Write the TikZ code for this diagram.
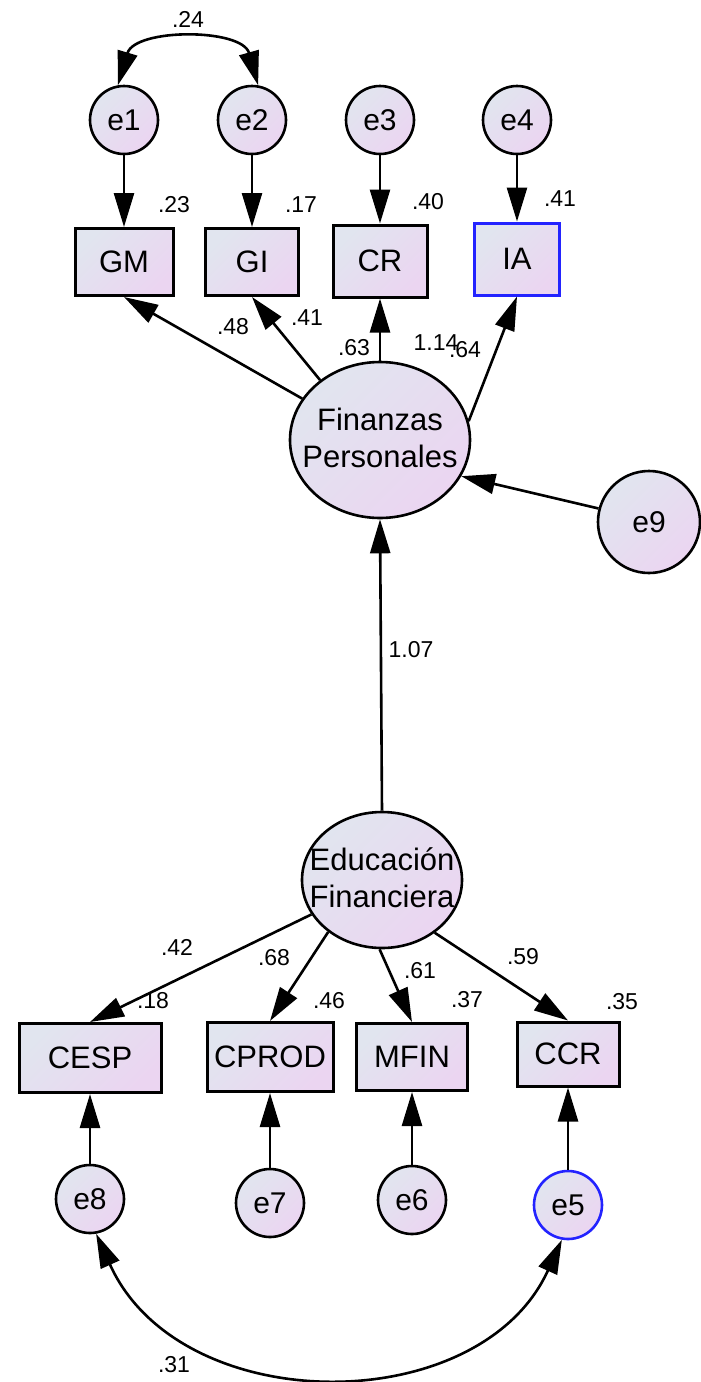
\documentclass[tikz,border=0pt]{standalone}
\usepackage{fontspec}
\setmainfont{Liberation Sans}
\usetikzlibrary{arrows.meta,shapes.geometric}
\definecolor{fillA}{RGB}{225,229,239}
\definecolor{fillB}{RGB}{235,213,241}
\definecolor{hiblue}{RGB}{35,35,255}
\begin{document}
\begin{tikzpicture}[x=1pt,y=-1pt,
  shaded/.style={top color=fillA, bottom color=fillB, shading angle=45},
  obs/.style={shaded, draw, line width=3pt, rectangle, inner sep=0pt, font=\fontsize{31}{37}\selectfont},
  err/.style={shaded, draw, line width=2.6pt, circle, inner sep=0pt, minimum size=68pt, font=\fontsize{30}{36}\selectfont},
  lat/.style={shaded, draw, line width=2.6pt, ellipse, inner sep=0pt},
  lattext/.style={align=center, font=\fontsize{31}{37}\selectfont, inner sep=0pt},
  arr/.style={-{Triangle[length=34pt,width=20pt]}, line width=2.6pt},
  cov/.style={{Triangle[length=34pt,width=20pt]}-{Triangle[length=34pt,width=20pt]}, line width=2.6pt},
  est/.style={font=\fontsize{23}{27}\selectfont, inner sep=0pt},
]
\useasboundingbox (0,0) rectangle (701,1382);

% indicators of Finanzas Personales
\node[err] (e1) at (124,120) {e1};
\node[err] (e2) at (252,120) {e2};
\node[err] (e3) at (380,120) {e3};
\node[err] (e4) at (517,120) {e4};
\node[obs, minimum width=98pt, minimum height=67pt] (GM) at (124,262) {GM};
\node[obs, minimum width=93pt, minimum height=67pt] (GI) at (252,262) {GI};
\node[obs, minimum width=94pt, minimum height=72pt] (CR) at (380,261) {CR};
\node[obs, draw=hiblue, minimum width=85pt, minimum height=72pt] (IA) at (517,259) {IA};

% latent variables
\node[lat, minimum width=180pt, minimum height=156pt] (FP) at (380,440) {};
\node[lattext] (FPt) at (380,438) {Finanzas\\Personales};
\node[err, minimum size=102pt] (e9) at (649,522) {e9};
\node[lat, minimum width=160pt, minimum height=136pt] (EF) at (382,880) {};
\node[lattext] (EFt) at (382,878) {Educación\\Financiera};

% indicators of Educación Financiera
\node[obs, minimum width=142pt, minimum height=69pt] (CESP) at (90,1058) {CESP};
\node[obs, minimum width=126pt, minimum height=69pt] (CPROD) at (270,1057) {CPROD};
\node[obs, minimum width=111pt, minimum height=67pt] (MFIN) at (412,1057) {MFIN};
\node[obs, minimum width=102pt, minimum height=64pt] (CCR) at (568,1054) {CCR};
\node[err] (e8) at (90,1199) {e8};
\node[err] (e7) at (270,1203) {e7};
\node[err] (e6) at (412,1200) {e6};
\node[err, draw=hiblue] (e5) at (568,1205) {e5};

% error paths
\draw[arr] (e1.south) -- (GM.north);
\draw[arr] (e2.south) -- (GI.north);
\draw[arr] (e3.south) -- (CR.north);
\draw[arr] (e4.south) -- (IA.north);
\draw[arr] (e8.north) -- (CESP.south);
\draw[arr] (e7.north) -- (CPROD.south);
\draw[arr] (e6.north) -- (MFIN.south);
\draw[arr] (e5.north) -- (CCR.south);

% loadings
\draw[arr] (FP.152) -- (GM.south);
\draw[arr] (FP.135) -- (GI.south);
\draw[arr] (FP.north) -- (CR.south);
\draw[arr] (FP.12) -- (IA.south);
\draw[arr] (e9.165) -- (FP.-24);
\draw[arr] (EF.north) -- (FP.south);
\draw[arr] (EF.206) -- (CESP.north);
\draw[arr] (EF.224) -- (CPROD.north);
\draw[arr] (EF.268) -- (MFIN.north);
\draw[arr] (EF.315) -- (CCR.north);

% covariances
\draw[cov] (e1.100) .. controls (135,28) and (242,28) .. (e2.80);
\draw[cov] (e8.-80) .. controls (180,1420) and (480,1420) .. (e5.-100);

% estimates
\node[est] (l24) at (188,19) {.24};
\node[est] (l23) at (174,205) {.23};
\node[est] (l17) at (301,205) {.17};
\node[est] (l40) at (428,202) {.40};
\node[est] (l41a) at (560,199) {.41};
\node[est] (l48) at (233,327) {.48};
\node[est] (l41b) at (307,318) {.41};
\node[est] (l63) at (354,348) {.63};
\node[est] (l114) at (436,343) {1.14};
\node[est] (l64) at (465,350) {.64};
\node[est] (l107) at (411,650) {1.07};
\node[est] (l42) at (177,947) {.42};
\node[est] (l68) at (274,958) {.68};
\node[est] (l18) at (153,1001) {.18};
\node[est] (l46) at (329,1001) {.46};
\node[est] (l61) at (420,971) {.61};
\node[est] (l37) at (467,1000) {.37};
\node[est] (l59) at (523,957) {.59};
\node[est] (l35) at (622,1002) {.35};
\node[est] (l31) at (174,1365) {.31};
\end{tikzpicture}
\end{document}
